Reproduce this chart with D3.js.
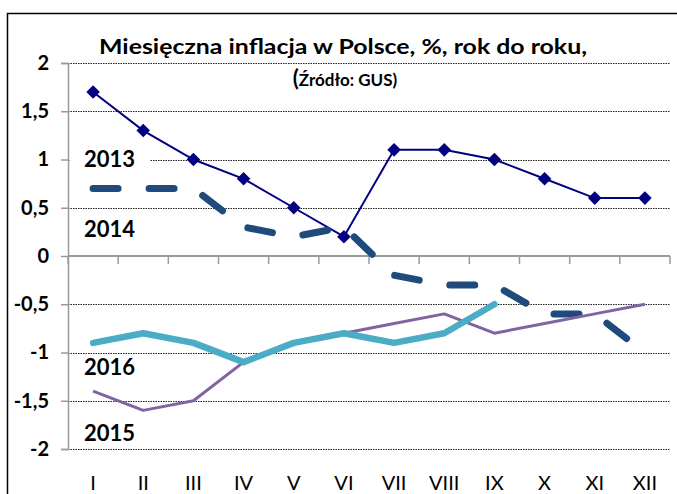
<!DOCTYPE html>
<html>
<head>
<meta charset="utf-8">
<script src="https://cdn.jsdelivr.net/npm/d3@7"></script>
<style>
  html, body { margin: 0; padding: 0; background: #fff; }
  svg { display: block; }
  text { font-family: Lato, "Open Sans", sans-serif; }
</style>
</head>
<body>
<svg id="chart" width="677" height="494"></svg>
<script>
// ---- data ----
const months = ["I","II","III","IV","V","VI","VII","VIII","IX","X","XI","XII"];
const yTicks = [2, 1.5, 1, 0.5, 0, -0.5, -1, -1.5, -2];
const infl2013 = [1.7, 1.3, 1.0, 0.8, 0.5, 0.2, 1.1, 1.1, 1.0, 0.8, 0.6, 0.6];
const infl2014 = [0.7, 0.7, 0.7, 0.3, 0.2, 0.3, -0.2, -0.3, -0.3, -0.6, -0.6, -1.0];
const infl2015 = [-1.4, -1.6, -1.5, -1.1, -0.9, -0.8, -0.7, -0.6, -0.8, -0.7, -0.6, -0.5];
const infl2016 = [-0.9, -0.8, -0.9, -1.1, -0.9, -0.8, -0.9, -0.8, -0.5];
const titleText = "Miesięczna inflacja w Polsce, %, rok do roku,";
const subtitleText = "Źródło: GUS)";

const svg = d3.select("#chart");

// frame (left and top edges visible)
svg.append("path")
  .attr("d", "M7.5,494 L7.5,13.5 L677,13.5")
  .attr("fill", "none").attr("stroke", "#000").attr("stroke-width", 1.5);

const x = d3.scaleBand().domain(months).range([68, 670]);
const y = d3.scaleLinear().domain([-2, 2]).range([449, 63]);
const cx = m => x(m) + x.bandwidth() / 2;

// gridlines (dotted)
svg.append("g").selectAll("line")
  .data(yTicks.filter(v => v !== 0))
  .join("line")
  .attr("x1", 68).attr("x2", 670)
  .attr("y1", d => Math.round(y(d)) + 0.5).attr("y2", d => Math.round(y(d)) + 0.5)
  .attr("stroke", "#222").attr("stroke-width", 1).attr("stroke-dasharray", "1.5,1");

// y axis
const yAxis = d3.axisLeft(y).tickValues(yTicks).tickSize(7).tickPadding(12)
  .tickFormat(d => String(d).replace(".", ","));
const gy = svg.append("g").attr("transform", "translate(68,0)").call(yAxis);
gy.select(".domain").attr("stroke", "#9a9a9a").attr("stroke-width", 1.5);
gy.selectAll(".tick line").attr("stroke", "#9a9a9a").attr("stroke-width", 1.5);
gy.selectAll(".tick text").attr("font-size", 20).attr("font-weight", 700)
  .attr("fill", "#000").attr("font-family", "Lato, sans-serif");

// zero line with category-boundary ticks
const zeroY = y(0);
svg.append("line").attr("x1", 68).attr("x2", 670).attr("y1", zeroY).attr("y2", zeroY)
  .attr("stroke", "#9a9a9a").attr("stroke-width", 2);
const bounds = months.map(m => x(m)).concat([x.range()[1]]);
svg.append("g").selectAll("line").data(bounds).join("line")
  .attr("x1", d => d).attr("x2", d => d)
  .attr("y1", zeroY).attr("y2", zeroY + 8)
  .attr("stroke", "#9a9a9a").attr("stroke-width", 1.5);

// x axis labels
const xAxis = d3.axisBottom(x).tickSize(0).tickPadding(27);
const gx = svg.append("g").attr("transform", "translate(0,449)").call(xAxis);
gx.select(".domain").remove();
gx.selectAll(".tick text").attr("font-size", 20).attr("font-weight", 400)
  .attr("fill", "#000").attr("font-family", "Lato, sans-serif");

// 2013 label with white backing over gridline
svg.append("rect").attr("x", 70).attr("y", 145).attr("width", 80).attr("height", 27).attr("fill", "#fff");

const line = d3.line().x((d, i) => cx(months[i])).y(d => y(d));

// 2013
svg.append("path").datum(infl2013).attr("d", line)
  .attr("fill", "none").attr("stroke", "#000080").attr("stroke-width", 2);
svg.append("g").selectAll("path").data(infl2013).join("path")
  .attr("d", d3.symbol(d3.symbolSquare, 92))
  .attr("transform", (d, i) => `translate(${cx(months[i])},${y(d)}) rotate(45)`)
  .attr("fill", "#000080");

// 2014
svg.append("path").datum(infl2014).attr("d", line)
  .attr("fill", "none").attr("stroke", "#1f4a7c").attr("stroke-width", 7)
  .attr("stroke-linecap", "round").attr("stroke-linejoin", "round")
  .attr("stroke-dasharray", "25,31");

// 2015
svg.append("path").datum(infl2015).attr("d", line)
  .attr("fill", "none").attr("stroke", "#8064a2").attr("stroke-width", 3)
  .attr("stroke-linejoin", "round");

// 2016
svg.append("path").datum(infl2016).attr("d", line)
  .attr("fill", "none").attr("stroke", "#4bacc6").attr("stroke-width", 6.5)
  .attr("stroke-linejoin", "round").attr("stroke-linecap", "round");

// year labels
const yearLabels = [
  {t: "2013", yb: 167},
  {t: "2014", yb: 237},
  {t: "2016", yb: 375},
  {t: "2015", yb: 441}
];
svg.append("g").selectAll("text").data(yearLabels).join("text")
  .attr("x", 84).attr("y", d => d.yb)
  .attr("font-size", 22).attr("font-weight", 700).attr("fill", "#000")
  .text(d => d.t);

// title
svg.append("text").attr("x", 343).attr("y", 54).attr("text-anchor", "middle")
  .attr("font-size", 20).attr("font-weight", 700).attr("fill", "#000")
  .attr("textLength", 488).attr("lengthAdjust", "spacingAndGlyphs")
  .text(titleText);
const sub = svg.append("text").attr("x", 345).attr("y", 86).attr("text-anchor", "middle")
  .attr("font-weight", 700).attr("fill", "#000");
sub.append("tspan").attr("font-size", 22).text("(");
sub.append("tspan").attr("font-size", 17).text(subtitleText);
</script>
</body>
</html>
